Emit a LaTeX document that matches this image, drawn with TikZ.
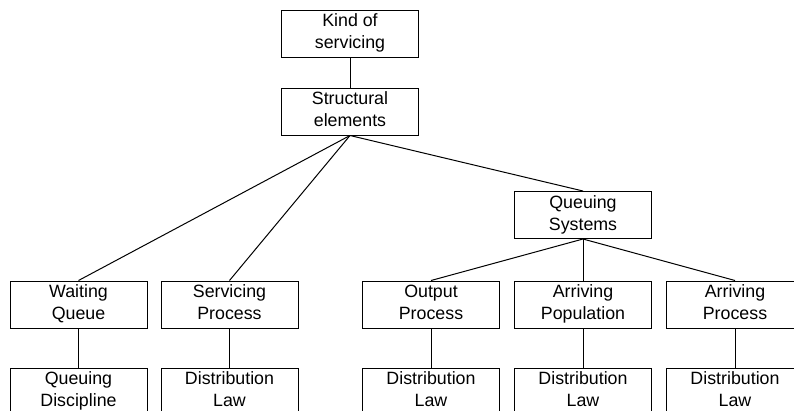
\documentclass[tikz,border=0pt]{standalone}
\usepackage{fontspec}
\setmainfont{Liberation Sans}
\usepackage{tikz}
\usetikzlibrary{positioning}
\newcommand{\twolines}[2]{\strut #1\\\strut #2}

\begin{document}
\begin{tikzpicture}[x=1pt, y=-1pt, level/.style={rectangle, draw=black, line width=1pt, minimum width=137pt, minimum height=47pt, inner sep=0pt, align=center, font=\fontsize{17.8}{22}\selectfont}, link/.style={line width=1pt}]
    \useasboundingbox (0,0) rectangle (794,410);
    \clip (0,0) rectangle (794,410);
    \node[level](kind) at (350,33.5) {\twolines{Kind of}{servicing}};
    \node[level](struct) at (350,111.5) {\twolines{Structural}{elements}};
    \node[level](qsys) at (583,215) {\twolines{Queuing}{Systems}};
    \node[level](wait) at (78.5,304.5) {\twolines{Waiting}{Queue}};
    \node[level](serv) at (229.5,304.5) {\twolines{Servicing}{Process}};
    \node[level](outp) at (431,304.5) {\twolines{Output}{Process}};
    \node[level](apop) at (583,304.5) {\twolines{Arriving}{Population}};
    \node[level](aproc) at (735,304.5) {\twolines{Arriving}{Process}};
    \node[level](disc) at (78.5,391.5) {\twolines{Queuing}{Discipline}};
    \node[level](lawserv) at (229.5,391.5) {\twolines{Distribution}{Law}};
    \node[level](lawoutp) at (431,391.5) {\twolines{Distribution}{Law}};
    \node[level](lawapop) at (583,391.5) {\twolines{Distribution}{Law}};
    \node[level](lawaproc) at (735,391.5) {\twolines{Distribution}{Law}};
    \draw[link] (kind.south) to (struct.north);
    \draw[link] (struct.south) to (wait.north);
    \draw[link] (struct.south) to (serv.north);
    \draw[link] (struct.south) to (qsys.north);
    \draw[link] (qsys.south) to (outp.north);
    \draw[link] (qsys.south) to (apop.north);
    \draw[link] (qsys.south) to (aproc.north);
    \draw[link] (wait.south) to (disc.north);
    \draw[link] (serv.south) to (lawserv.north);
    \draw[link] (outp.south) to (lawoutp.north);
    \draw[link] (apop.south) to (lawapop.north);
    \draw[link] (aproc.south) to (lawaproc.north);
\end{tikzpicture}
\end{document}
